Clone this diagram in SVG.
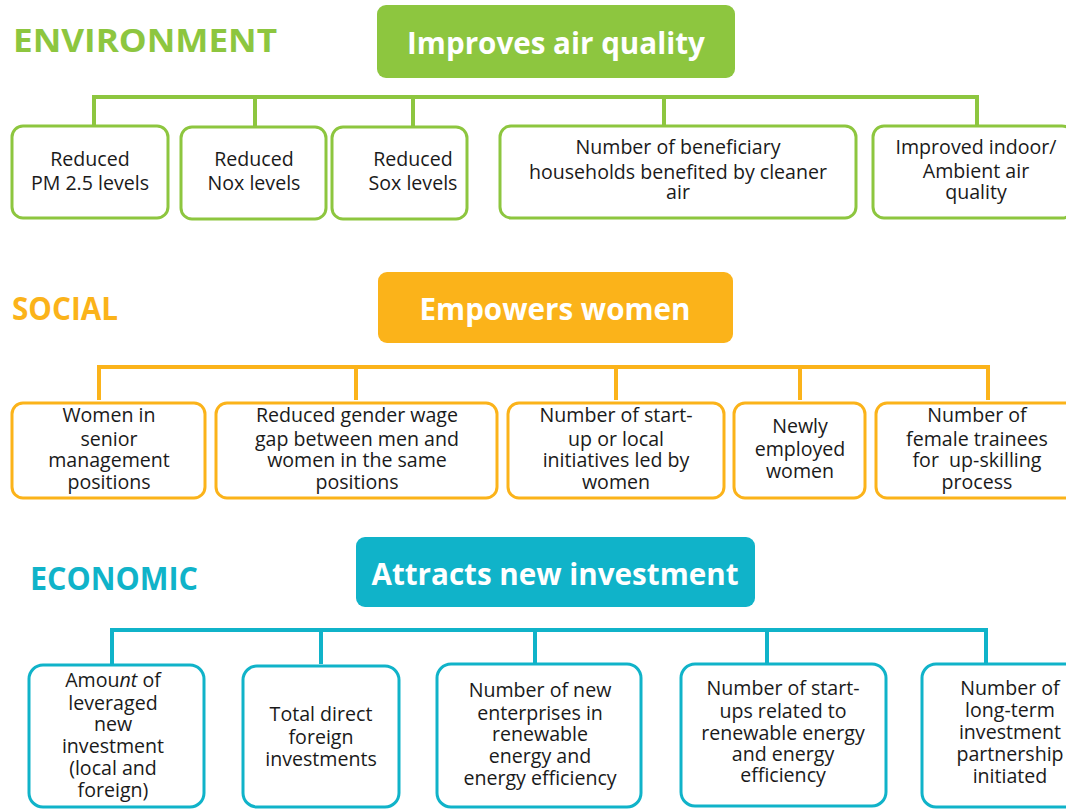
<svg xmlns="http://www.w3.org/2000/svg" width="1066" height="809" viewBox="0 0 1066 809">
<style>
.t{font-family:"Open Sans","Noto Sans","DejaVu Sans",sans-serif;font-size:19.6px;fill:#1a1a1a;text-anchor:middle}
.h{font-family:"Open Sans","Noto Sans","DejaVu Sans",sans-serif;font-weight:bold;font-size:29.6px;fill:#fff;text-anchor:middle}
.s{font-family:"Open Sans","Noto Sans","DejaVu Sans",sans-serif;font-weight:bold;font-size:33px}
.g{stroke:#8dc63f}.o{stroke:#fbb31a}.c{stroke:#10b3c9}
.box{fill:#fff;stroke-width:3}
.ln{fill:none;stroke-width:4}
</style>
<rect width="1066" height="809" fill="#fff"/>
<text class="s" x="13" y="52" fill="#8dc63f" textLength="264" lengthAdjust="spacingAndGlyphs">ENVIRONMENT</text>
<text class="s" x="12" y="320" fill="#fbb31a" textLength="106" lengthAdjust="spacingAndGlyphs">SOCIAL</text>
<text class="s" x="30" y="590" fill="#10b3c9" textLength="168" lengthAdjust="spacingAndGlyphs">ECONOMIC</text>
<g id="connectors">
<path class="ln g" d="M94,126V97H977V126M255,97V126M413,97V126M664,97V126"/>
<path class="ln o" d="M99,400V367H988V400M356,367V400M616,367V400M800,367V400"/>
<path class="ln c" d="M112,664V630H986V664M321,630V664M535,630V664M767,630V664"/>
</g>
<g id="env-head"><rect x="377" y="5" width="358" height="73" rx="9" fill="#8dc63f"/><text class="h" x="556" y="54">Improves air quality</text></g>
<g id="env1"><rect class="box g" x="12" y="126" width="156" height="92" rx="11"/><text class="t" x="90" y="166">Reduced</text><text class="t" x="90" y="190">PM 2.5 levels</text></g>
<g id="env2"><rect class="box g" x="181" y="127" width="145" height="92" rx="11"/><text class="t" x="254" y="166">Reduced</text><text class="t" x="254" y="190">Nox levels</text></g>
<g id="env3"><rect class="box g" x="332" y="127" width="135" height="92" rx="11"/><text class="t" x="413" y="166">Reduced</text><text class="t" x="413" y="190">Sox levels</text></g>
<g id="env4"><rect class="box g" x="500" y="126" width="356" height="92" rx="11"/><text class="t" x="678" y="154">Number of beneficiary</text><text class="t" x="678" y="179">households benefited by cleaner</text><text class="t" x="678" y="199">air</text></g>
<g id="env5"><rect class="box g" x="873" y="126" width="200" height="92" rx="11"/><text class="t" x="976" y="154">Improved indoor/</text><text class="t" x="976" y="178">Ambient air</text><text class="t" x="976" y="199">quality</text></g>
<g id="soc-head"><rect x="378" y="272" width="355" height="71" rx="9" fill="#fbb31a"/><text class="h" x="555" y="320">Empowers women</text></g>
<g id="soc1"><rect class="box o" x="12" y="403" width="193" height="95" rx="11"/><text class="t" x="109" y="422">Women in</text><text class="t" x="109" y="446">senior</text><text class="t" x="109" y="467">management</text><text class="t" x="109" y="489">positions</text></g>
<g id="soc2"><rect class="box o" x="216" y="403" width="281" height="95" rx="11"/><text class="t" x="357" y="422">Reduced gender wage</text><text class="t" x="357" y="446">gap between men and</text><text class="t" x="357" y="467">women in the same</text><text class="t" x="357" y="489">positions</text></g>
<g id="soc3"><rect class="box o" x="508" y="403" width="216" height="95" rx="11"/><text class="t" x="616" y="422">Number of start-</text><text class="t" x="616" y="446">up or local</text><text class="t" x="616" y="467">initiatives led by</text><text class="t" x="616" y="489">women</text></g>
<g id="soc4"><rect class="box o" x="734" y="403" width="131" height="95" rx="11"/><text class="t" x="800" y="433">Newly</text><text class="t" x="800" y="456">employed</text><text class="t" x="800" y="478">women</text></g>
<g id="soc5"><rect class="box o" x="876" y="403" width="200" height="95" rx="11"/><text class="t" x="977" y="422">Number of</text><text class="t" x="977" y="446">female trainees</text><text class="t" x="977" y="467" xml:space="preserve">for  up-skilling</text><text class="t" x="977" y="489">process</text></g>
<g id="eco-head"><rect x="356" y="537" width="399" height="70" rx="9" fill="#10b3c9"/><text class="h" x="555" y="585">Attracts new investment</text></g>
<g id="eco1"><rect class="box c" x="29" y="665" width="175" height="142" rx="14"/><text class="t" x="113" y="687">Amou<tspan font-style="italic">nt</tspan> of</text><text class="t" x="113" y="710">leveraged</text><text class="t" x="113" y="731">new</text><text class="t" x="113" y="753">investment</text><text class="t" x="113" y="775">(local and</text><text class="t" x="113" y="797">foreign)</text></g>
<g id="eco2"><rect class="box c" x="243" y="666" width="156" height="141" rx="14"/><text class="t" x="321" y="721">Total direct</text><text class="t" x="321" y="744">foreign</text><text class="t" x="321" y="766">investments</text></g>
<g id="eco3"><rect class="box c" x="437" y="664" width="204" height="143" rx="14"/><text class="t" x="540" y="697">Number of new</text><text class="t" x="540" y="720">enterprises in</text><text class="t" x="540" y="741">renewable</text><text class="t" x="540" y="763">energy and</text><text class="t" x="540" y="785">energy efficiency</text></g>
<g id="eco4"><rect class="box c" x="681" y="664" width="205" height="142" rx="14"/><text class="t" x="783" y="695">Number of start-</text><text class="t" x="783" y="718">ups related to</text><text class="t" x="783" y="740">renewable energy</text><text class="t" x="783" y="761">and energy</text><text class="t" x="783" y="782">efficiency</text></g>
<g id="eco5"><rect class="box c" x="922" y="664" width="160" height="143" rx="14"/><text class="t" x="1010" y="695">Number of</text><text class="t" x="1010" y="717">long-term</text><text class="t" x="1010" y="739">investment</text><text class="t" x="1010" y="761">partnership</text><text class="t" x="1010" y="783">initiated</text></g>
</svg>
